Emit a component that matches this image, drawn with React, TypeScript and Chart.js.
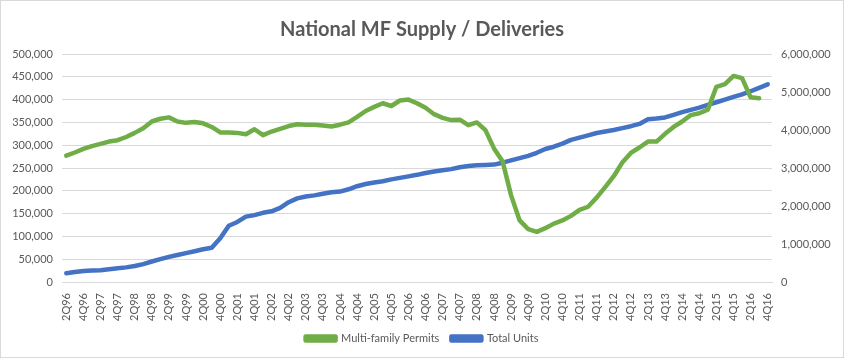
import React, { useEffect, useRef } from "react";
import { Chart, registerables } from "chart.js";

Chart.register(...registerables);

const years = ["96","97","98","99","00","01","02","03","04","05","06","07","08","09","10","11","12","13","14","15","16"];
const categories: string[] = [];
years.forEach((y, yi) => {
  for (let q = 1; q <= 4; q++) {
    if (yi === 0 && q === 1) continue;
    categories.push(`${q}Q${y}`);
  }
});

const permits: (number | null)[] = [
  277000, 284000, 292000, 298000, 303000, 308000, 311000, 318000, 327000, 337000,
  352000, 358000, 361000, 352000, 349000, 351000, 348000, 340000, 328000, 328000,
  327000, 324000, 335000, 322000, 330000, 336000, 342000, 346000, 345000, 345000,
  343000, 341000, 345000, 350000, 362000, 375000, 384000, 392000, 386000, 398000,
  400000, 392000, 382000, 368000, 360000, 355000, 356000, 344000, 350000, 333000,
  293000, 265000, 190000, 135000, 116000, 110000, 118000, 128000, 135000, 145000,
  158000, 165000, 185000, 208000, 232000, 262000, 283000, 295000, 308000, 308000,
  325000, 340000, 352000, 366000, 370000, 378000, 428000, 434000, 452000, 447000,
  405000, 403000, null,
];

const totalUnits: number[] = [
  230000, 265000, 290000, 300000, 310000, 335000, 360000, 385000, 420000, 470000,
  540000, 600000, 660000, 710000, 760000, 810000, 860000, 900000, 1150000, 1480000,
  1580000, 1720000, 1760000, 1820000, 1860000, 1950000, 2100000, 2200000, 2250000, 2280000,
  2320000, 2360000, 2380000, 2440000, 2520000, 2580000, 2620000, 2650000, 2700000, 2740000,
  2780000, 2820000, 2870000, 2910000, 2940000, 2970000, 3020000, 3050000, 3070000, 3080000,
  3090000, 3140000, 3200000, 3260000, 3320000, 3400000, 3500000, 3560000, 3640000, 3740000,
  3800000, 3860000, 3920000, 3960000, 4000000, 4050000, 4100000, 4160000, 4280000, 4300000,
  4330000, 4400000, 4470000, 4530000, 4590000, 4660000, 4730000, 4800000, 4870000, 4940000,
  5020000, 5110000, 5200000,
];

const seriesNames = ["Multi-family Permits", "Total Units"];
const titleText = "National MF Supply / Deliveries";

const FONT = "Lato, 'Open Sans', sans-serif";
const TXT = "#595959";
const GRID = "#d9d9d9";
const GREEN = "#70AD47";
const BLUE = "#4472C4";

export default function App() {
  const ref = useRef<HTMLCanvasElement | null>(null);
  useEffect(() => {
    if (!ref.current) return;
    const chart = new Chart(ref.current, {
      type: "line",
      data: {
        labels: categories,
        datasets: [
          {
            label: seriesNames[0],
            data: permits,
            borderColor: GREEN,
            backgroundColor: GREEN,
            borderWidth: 4.5,
            pointRadius: 0,
            tension: 0,
            borderJoinStyle: "round",
            borderCapStyle: "round",
            yAxisID: "y",
          },
          {
            label: seriesNames[1],
            data: totalUnits,
            borderColor: BLUE,
            backgroundColor: BLUE,
            borderWidth: 4.5,
            pointRadius: 0,
            tension: 0,
            borderJoinStyle: "round",
            borderCapStyle: "round",
            yAxisID: "y1",
          },
        ],
      },
      options: {
        responsive: false,
        animation: false,
        layout: { padding: { top: 0, bottom: 4, left: 0, right: 0 } },
        plugins: {
          title: {
            display: true,
            text: titleText,
            color: TXT,
            font: { family: FONT, size: 20, weight: "bold" },
            padding: { top: 18, bottom: 12 },
          },
          legend: {
            position: "bottom",
            labels: {
              color: TXT,
              font: { family: FONT, size: 11 },
              boxWidth: 30,
              boxHeight: 4,
              padding: 12,
            },
          },
          tooltip: { enabled: false },
        },
        scales: {
          x: {
            offset: true,
            grid: { display: false },
            border: { display: true, color: GRID },
            ticks: {
              autoSkip: false,
              maxRotation: 90,
              minRotation: 90,
              color: TXT,
              font: { family: FONT, size: 11 },
              padding: 3,
              callback: (_v: any, i: number) => (i % 2 === 0 ? categories[i] : ""),
            },
            afterFit: (s: any) => { s.height = 39; },
          },
          y: {
            position: "left",
            min: 0,
            max: 500000,
            border: { display: false },
            grid: { color: GRID, drawTicks: false },
            ticks: {
              stepSize: 50000,
              color: TXT,
              padding: 9,
              font: { family: FONT, size: 11 },
              callback: (v: any) => Number(v).toLocaleString("en-US"),
            },
            afterFit: (s: any) => { s.width = 62; },
          },
          y1: {
            position: "right",
            min: 0,
            max: 6000000,
            border: { display: false },
            grid: { display: false, drawTicks: false },
            ticks: {
              stepSize: 1000000,
              color: TXT,
              padding: 9,
              font: { family: FONT, size: 11 },
              callback: (v: any) => Number(v).toLocaleString("en-US"),
            },
            afterFit: (s: any) => { s.width = 72; },
          },
        },
      },
    });
    return () => chart.destroy();
  }, []);
  return (
    <div style={{ position: "fixed", left: 0, top: 0, width: 844, height: 358, background: "#fff" }}>
      <canvas ref={ref} width={844} height={358} style={{ position: "absolute", left: 0, top: 0 }} />
      <div style={{ position: "absolute", left: 0, top: 0, width: 844, height: 358, boxSizing: "border-box", border: "1px solid #d9d9d9", pointerEvents: "none" }} />
    </div>
  );
}
